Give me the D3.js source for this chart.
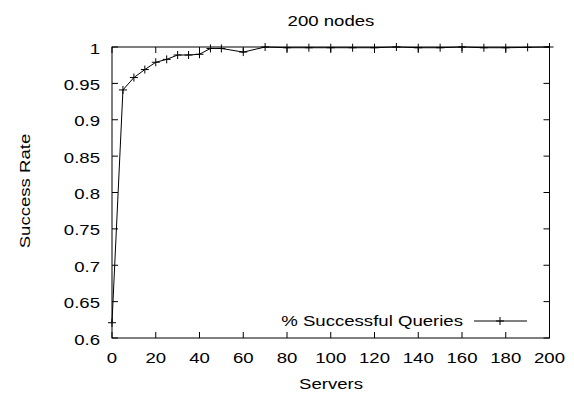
<!DOCTYPE html>
<html><head><meta charset="utf-8">
<script src="https://cdn.jsdelivr.net/npm/d3@7"></script>
<style>body{margin:0;background:#fff}svg{display:block}text{font-family:"Liberation Sans",Arial,sans-serif;font-size:15px;fill:#000}</style>
</head><body>
<script>
const servers = [0,5,10,15,20,25,30,35,40,45,50,60,70,80,90,100,110,120,130,140,150,160,170,180,190,200];
const successRate = [0.621,0.941,0.958,0.969,0.979,0.983,0.989,0.989,0.990,0.998,0.998,0.993,1.0,0.999,0.999,0.999,0.999,0.999,1.0,0.999,0.999,1.0,0.999,0.999,0.9995,1.0];
const xTicks = [0,20,40,60,80,100,120,140,160,180,200];
const yTicks = [0.6,0.65,0.7,0.75,0.8,0.85,0.9,0.95,1];
const title = "200 nodes", xLabel = "Servers", yLabel = "Success Rate", legendLabel = "% Successful Queries";

const W=574,H=395, L=112,R=549.5,T=47,B=338, SX=1.24;
const svg=d3.select("body").append("svg").attr("width",W).attr("height",H);
const x=d3.scaleLinear().domain([0,200]).range([L,R]);
const y=d3.scaleLinear().domain([0.6,1]).range([B,T]);
function label(px,py,str,anchor,rot){
  svg.append("text").attr("transform",`translate(${px},${py})`+(rot?` rotate(${rot})`:"")+` scale(${SX},1)`)
    .attr("text-anchor",anchor).text(str);
}
const tl=6;
const g=svg.append("g");
xTicks.forEach(v=>{
  g.append("line").attr("x1",x(v)).attr("x2",x(v)).attr("y1",B).attr("y2",B-tl).attr("stroke","#000");
  g.append("line").attr("x1",x(v)).attr("x2",x(v)).attr("y1",T).attr("y2",T+tl).attr("stroke","#000");
  label(x(v),363,v,"middle");
});
yTicks.forEach(v=>{
  g.append("line").attr("x1",L).attr("x2",L+tl).attr("y1",y(v)).attr("y2",y(v)).attr("stroke","#000");
  g.append("line").attr("x1",R).attr("x2",R-tl).attr("y1",y(v)).attr("y2",y(v)).attr("stroke","#000");
  label(L-12,y(v)+6.5,v,"end");
});
g.append("rect").attr("x",L).attr("y",T).attr("width",R-L).attr("height",B-T).attr("fill","none").attr("stroke","#000");
const data=servers.map((s,i)=>[s,successRate[i]]);
svg.append("path").datum(data).attr("fill","none").attr("stroke","#000").attr("stroke-width",1)
  .attr("d",d3.line().x(d=>x(d[0])).y(d=>y(d[1])));
const ps=4;
svg.selectAll("g.pt").data(data).join("g").attr("class","pt").each(function(d){
  const s=d3.select(this),cx=x(d[0]),cy=y(d[1]);
  s.append("line").attr("x1",cx-ps).attr("x2",cx+ps).attr("y1",cy).attr("y2",cy).attr("stroke","#000");
  s.append("line").attr("x1",cx).attr("x2",cx).attr("y1",cy-ps).attr("y2",cy+ps).attr("stroke","#000");
});
// legend
label(463,326,legendLabel,"end");
svg.append("line").attr("x1",474).attr("x2",527).attr("y1",321).attr("y2",321).attr("stroke","#000");
svg.append("line").attr("x1",496).attr("x2",504).attr("y1",321).attr("y2",321).attr("stroke","#000");
svg.append("line").attr("x1",500).attr("x2",500).attr("y1",317).attr("y2",325).attr("stroke","#000");
label(331,26,title,"middle");
label(331,389,xLabel,"middle");
label(30,191,yLabel,"middle",-90);
</script>
</body></html>
